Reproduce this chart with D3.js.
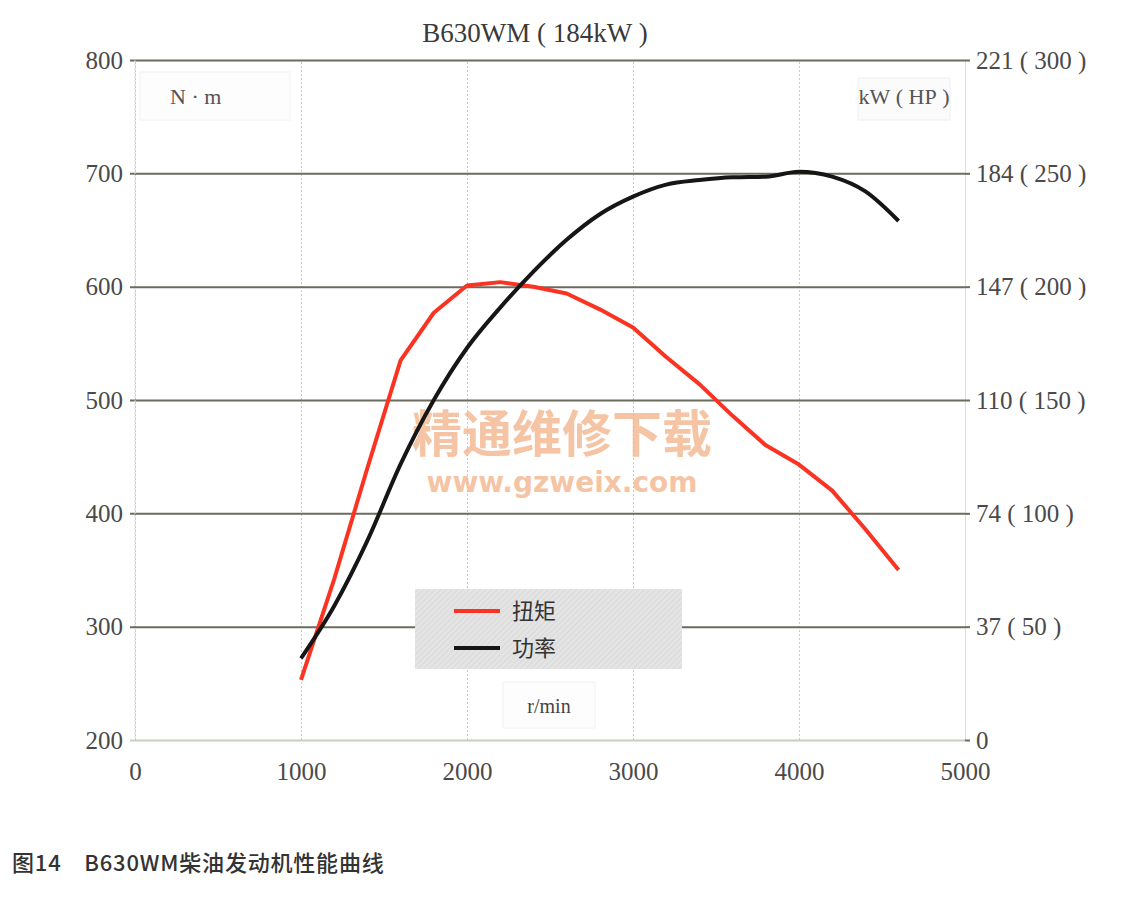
<!DOCTYPE html>
<html>
<head>
<meta charset="utf-8">
<script src="https://cdn.jsdelivr.net/npm/d3@7/dist/d3.min.js"></script>
<style>
  html, body { margin: 0; padding: 0; background: #ffffff; }
  svg { display: block; }
</style>
</head>
<body>
<svg id="chart" width="1124" height="901"></svg>
<script>
// ---- data ----
const rpm = [1000, 1200, 1400, 1600, 1800, 2000, 2200, 2400, 2600, 2800, 3000, 3200, 3400, 3600, 3800, 4000, 4200, 4400, 4600];
const torqueNm = [253, 342, 440, 535, 577, 601, 604, 600, 594, 580, 564, 538, 514, 486, 460, 443, 420, 386, 350];
const powerKW = [26.5, 43.5, 64.7, 89.5, 110.3, 127.2, 140.3, 152.0, 162.3, 170.6, 176.3, 180.2, 181.7, 182.6, 182.8, 184.4, 182.8, 178.0, 168.4];
const xTicks = [0, 1000, 2000, 3000, 4000, 5000];
const leftTicks = [200, 300, 400, 500, 600, 700, 800];
const rightTicksHP = [0, 50, 100, 150, 200, 250, 300];
const rightTickLabels = ["0", "37\u00a0(\u00a050\u00a0)", "74\u00a0(\u00a0100\u00a0)", "110\u00a0(\u00a0150\u00a0)", "147\u00a0(\u00a0200\u00a0)", "184\u00a0(\u00a0250\u00a0)", "221\u00a0(\u00a0300\u00a0)"];
const seriesNames = ["扭矩", "功率"];
const titleText = "B630WM\u00a0(\u00a0184kW\u00a0)";
const captionText = "图14\u3000B630WM柴油发动机性能曲线";

// ---- layout ----
const svg = d3.select("#chart");
const L = 135, R = 965, T = 60, B = 740;
const HP2KW = 0.7355;
const x = d3.scaleLinear().domain([0, 5000]).range([L, R]);
const yL = d3.scaleLinear().domain([200, 800]).range([B, T]);
const yR = d3.scaleLinear().domain([0, 300 * HP2KW]).range([B, T]);
const serif = "'Liberation Serif','DejaVu Serif',serif";

// unit boxes
svg.append("rect").attr("x", 140).attr("y", 72).attr("width", 150).attr("height", 48)
  .attr("fill", "#fdfdfd").attr("stroke", "#f2f2f2");
svg.append("rect").attr("x", 858).attr("y", 78).attr("width", 92).attr("height", 42)
  .attr("fill", "#fbfbfb").attr("stroke", "#efefef");
svg.append("rect").attr("x", 503).attr("y", 682).attr("width", 92).attr("height", 46)
  .attr("fill", "#fdfdfd").attr("stroke", "#f2f2f2");

// vertical grid (x axis)
const gx = svg.append("g").attr("transform", `translate(0,${B})`)
  .call(d3.axisBottom(x).tickValues(xTicks).tickSize(-(B - T)).tickPadding(22).tickFormat(d3.format("d")));
gx.select(".domain").remove();
gx.selectAll(".tick line").attr("stroke", "#c9c9c9").attr("stroke-dasharray", "2,2").attr("stroke-width", 1);
gx.selectAll(".tick text").attr("font-family", serif).attr("font-size", 25).attr("fill", "#4a4a4a");

// horizontal grid (left axis)
const gl = svg.append("g").attr("transform", `translate(${L},0)`)
  .call(d3.axisLeft(yL).tickValues(leftTicks).tickSize(-(R - L)).tickPadding(12).tickFormat(d3.format("d")));
gl.select(".domain").remove();
gl.selectAll(".tick line").attr("stroke", d => d === 200 ? "#c5cfc0" : "#6b6b5e").attr("stroke-width", 2).attr("x1", -5);
gl.selectAll(".tick text").attr("font-family", serif).attr("font-size", 25).attr("fill", "#4a4a4a");

// right axis
const gr = svg.append("g").attr("transform", `translate(${R},0)`)
  .call(d3.axisRight(yR).tickValues(rightTicksHP.map(h => h * HP2KW)).tickSize(5).tickPadding(6)
    .tickFormat((d, i) => rightTickLabels[i]));
gr.select(".domain").attr("stroke", "#dddddd");
gr.selectAll(".tick line").attr("stroke", "#6b6b5e").attr("stroke-width", 2);
gr.selectAll(".tick text").attr("font-family", serif).attr("font-size", 25).attr("fill", "#4a4a4a");

// left axis line
svg.append("line").attr("x1", L).attr("x2", L).attr("y1", T).attr("y2", B)
  .attr("stroke", "#d4d4d4").attr("stroke-dasharray", "2,2");

// unit labels
svg.append("text").attr("x", 170).attr("y", 104).attr("font-family", serif).attr("font-size", 22)
  .attr("fill", "#555").text("N · m");
svg.append("text").attr("x", 904).attr("y", 104).attr("text-anchor", "middle").attr("font-family", serif)
  .attr("font-size", 22).attr("fill", "#555").text("kW\u00a0(\u00a0HP\u00a0)");
svg.append("text").attr("x", 549).attr("y", 713).attr("text-anchor", "middle").attr("font-family", serif)
  .attr("font-size", 20).attr("fill", "#444").text("r/min");

// title
svg.append("text").attr("x", 535).attr("y", 42).attr("text-anchor", "middle").attr("font-family", serif)
  .attr("font-size", 27).attr("fill", "#3a3a3a").text(titleText);

// watermark
svg.append("text").attr("x", 562).attr("y", 452).attr("text-anchor", "middle")
  .attr("font-family", "'Noto Sans CJK SC',sans-serif").attr("font-weight", "bold").attr("font-size", 50)
  .attr("fill", "#f3b68e").attr("opacity", 0.8).text("精通维修下载");
svg.append("text").attr("x", 562).attr("y", 492).attr("text-anchor", "middle")
  .attr("font-family", "'DejaVu Sans',sans-serif").attr("font-weight", "bold").attr("font-size", 28)
  .attr("fill", "#f3b68e").attr("opacity", 0.8).text("www.gzweix.com");

// legend box (hatched gray)
const defs = svg.append("defs");
const pat = defs.append("pattern").attr("id", "hatch").attr("width", 4).attr("height", 4)
  .attr("patternUnits", "userSpaceOnUse").attr("patternTransform", "rotate(45)");
pat.append("rect").attr("width", 4).attr("height", 4).attr("fill", "#e4e4e4");
pat.append("line").attr("x1", 0).attr("y1", 0).attr("x2", 0).attr("y2", 4).attr("stroke", "#d6d6d6").attr("stroke-width", 1.5);
svg.append("rect").attr("x", 415).attr("y", 589).attr("width", 267).attr("height", 80).attr("fill", "url(#hatch)");

// curves
const torqueLine = d3.line().x((d, i) => x(rpm[i])).y(d => yL(d)).curve(d3.curveLinear);
const powerLine = d3.line().x((d, i) => x(rpm[i])).y(d => yR(d)).curve(d3.curveMonotoneX);
svg.append("path").datum(torqueNm).attr("d", torqueLine).attr("fill", "none")
  .attr("stroke", "#fa3322").attr("stroke-width", 4).attr("stroke-linejoin", "round");
svg.append("path").datum(powerKW).attr("d", powerLine).attr("fill", "none")
  .attr("stroke", "#161616").attr("stroke-width", 4).attr("stroke-linejoin", "round");

// legend entries
const legColors = ["#fa3322", "#161616"];
seriesNames.forEach((n, i) => {
  const yy = 611 + i * 37;
  svg.append("line").attr("x1", 454).attr("x2", 500).attr("y1", yy).attr("y2", yy)
    .attr("stroke", legColors[i]).attr("stroke-width", 4);
  svg.append("text").attr("x", 512).attr("y", yy + 8).attr("font-family", "'Noto Sans CJK SC',sans-serif")
    .attr("font-size", 22).attr("fill", "#333").text(n);
});

// caption
svg.append("text").attr("x", 12).attr("y", 871).attr("font-family", "'Noto Sans CJK SC','Noto Sans',sans-serif")
  .attr("font-weight", 500).attr("font-size", 22).attr("letter-spacing", 0.8).attr("fill", "#333").text(captionText);
</script>
</body>
</html>
